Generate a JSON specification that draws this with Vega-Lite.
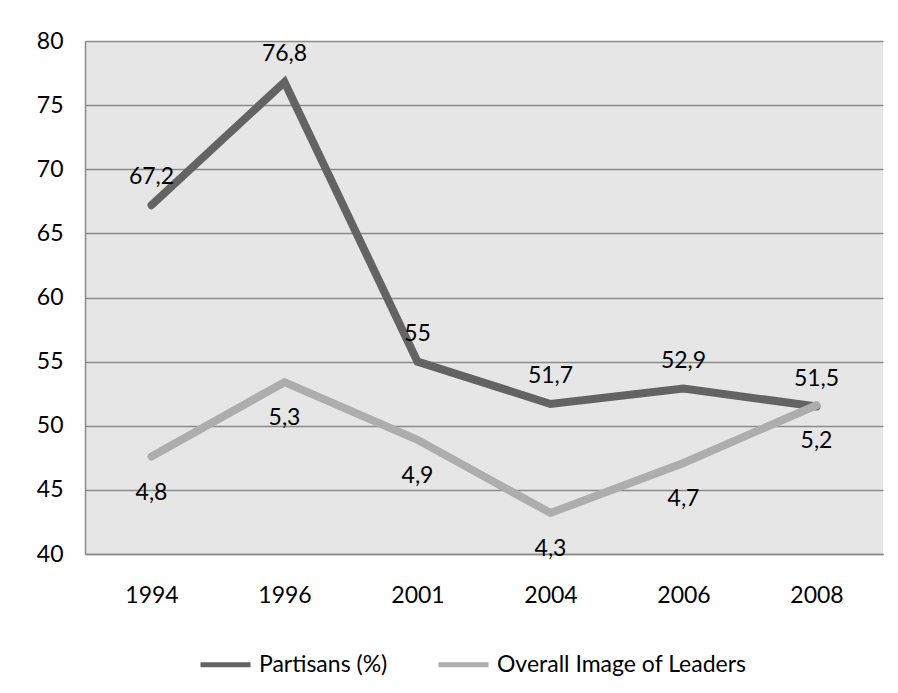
{
  "$schema": "https://vega.github.io/schema/vega-lite/v6.json",
  "width": 798,
  "height": 513,
  "autosize": "none",
  "padding": {"left": 85, "top": 41, "right": 15, "bottom": 139},
  "background": "white",
  "config": {
    "locale": {"number": {"decimal": ",", "thousands": ".", "grouping": [3], "currency": ["", " €"]}},
    "font": "Lato",
    "view": {"fill": "#e6e6e6", "stroke": null}
  },
  "data": {
    "values": [
      {"year": "1994", "series": "Partisans (%)", "value": 67.2},
      {"year": "1996", "series": "Partisans (%)", "value": 76.8},
      {"year": "2001", "series": "Partisans (%)", "value": 55},
      {"year": "2004", "series": "Partisans (%)", "value": 51.7},
      {"year": "2006", "series": "Partisans (%)", "value": 52.9},
      {"year": "2008", "series": "Partisans (%)", "value": 51.5},
      {"year": "1994", "series": "Overall Image of Leaders", "value": 4.76},
      {"year": "1996", "series": "Overall Image of Leaders", "value": 5.34},
      {"year": "2001", "series": "Overall Image of Leaders", "value": 4.89},
      {"year": "2004", "series": "Overall Image of Leaders", "value": 4.32},
      {"year": "2006", "series": "Overall Image of Leaders", "value": 4.71},
      {"year": "2008", "series": "Overall Image of Leaders", "value": 5.16}
    ]
  },
  "layer": [
    {
      "transform": [{"filter": "datum.series === 'Partisans (%)'"}],
      "encoding": {
        "x": {
          "field": "year", "type": "ordinal", "sort": null,
          "axis": {"title": null, "ticks": false, "domain": true, "domainColor": "#8a8a8a", "domainWidth": 1.5, "labelPadding": 30, "labelFontSize": 23, "labelAngle": 0, "labelColor": "#000", "grid": false}
        },
        "y": {
          "field": "value", "type": "quantitative",
          "scale": {"domain": [40, 80], "nice": false, "zero": false},
          "axis": {"title": null, "values": [40, 45, 50, 55, 60, 65, 70, 75, 80], "grid": true, "gridColor": "#8a8a8a", "gridWidth": 1.5, "domain": true, "domainColor": "#8a8a8a", "domainWidth": 1.5, "ticks": false, "labelPadding": 22, "labelFontSize": 23, "labelColor": "#000"}
        }
      },
      "layer": [
        {
          "mark": {"type": "line", "strokeWidth": 8, "strokeCap": "round", "strokeJoin": "miter"},
          "encoding": {
            "color": {
              "field": "series", "type": "nominal",
              "scale": {"domain": ["Partisans (%)", "Overall Image of Leaders"], "range": ["#636363", "#adadad"]},
              "legend": {"title": null, "orient": "none", "legendX": 113, "legendY": 596, "direction": "horizontal", "symbolType": "stroke", "symbolStrokeWidth": 5, "symbolSize": 2500, "labelFontSize": 23, "labelColor": "#000", "labelOffset": 6, "labelLimit": 0, "columnPadding": 40}
            }
          }
        },
        {
          "mark": {"type": "text", "dy": -28, "fontSize": 23, "color": "#000"},
          "encoding": {"text": {"field": "value", "type": "quantitative", "format": ".1~f"}}
        }
      ]
    },
    {
      "transform": [{"filter": "datum.series === 'Overall Image of Leaders'"}],
      "encoding": {
        "x": {"field": "year", "type": "ordinal", "sort": null},
        "y": {"field": "value", "type": "quantitative", "scale": {"domain": [4, 8], "nice": false, "zero": false}, "axis": null}
      },
      "layer": [
        {
          "mark": {"type": "line", "strokeWidth": 8, "strokeCap": "round", "strokeJoin": "miter"},
          "encoding": {
            "color": {"field": "series", "type": "nominal"}
          }
        },
        {
          "mark": {"type": "text", "dy": 36, "fontSize": 23, "color": "#000"},
          "encoding": {"text": {"field": "value", "type": "quantitative", "format": ".1f"}}
        }
      ]
    }
  ],
  "resolve": {"scale": {"y": "independent"}}
}
